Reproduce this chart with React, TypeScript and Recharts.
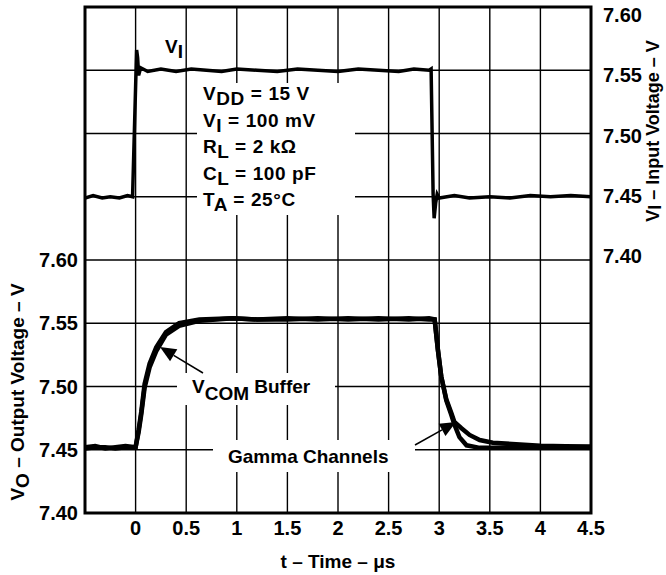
import React from 'react';
import { LineChart, Line, XAxis, YAxis, CartesianGrid, ReferenceArea } from 'recharts';

// ---- tick values ----
const timeTicks = [-0.5, 0, 0.5, 1, 1.5, 2, 2.5, 3, 3.5, 4, 4.5];
const outputTicks = [7.4, 7.45, 7.5, 7.55, 7.6, 7.65, 7.7, 7.75, 7.8];
const inputTicks = [7.4, 7.45, 7.5, 7.55, 7.6];

// ---- V_I input step (right axis) ----
const inputTime = [-0.5, -0.42, -0.33, -0.25, -0.16, -0.08, -0.03, 0.01, 0.02, 0.03, 0.05, 0.12, 0.25, 0.4, 0.55, 0.7, 0.85, 1.0, 1.2, 1.4, 1.6, 1.8, 2.0, 2.2, 2.4, 2.6, 2.75, 2.9, 2.92, 2.94, 2.95, 2.965, 2.98, 3.0, 3.15, 3.3, 3.5, 3.7, 3.9, 4.1, 4.3, 4.5];
const inputVolt = [7.449, 7.451, 7.449, 7.450, 7.449, 7.451, 7.450, 7.566, 7.560, 7.546, 7.552, 7.549, 7.551, 7.549, 7.551, 7.550, 7.549, 7.551, 7.550, 7.549, 7.551, 7.550, 7.549, 7.551, 7.550, 7.549, 7.551, 7.550, 7.551, 7.452, 7.433, 7.445, 7.452, 7.449, 7.451, 7.449, 7.450, 7.449, 7.451, 7.450, 7.451, 7.450];

// ---- V_O output, Gamma channels (faster settling) ----
const gammaTime = [-0.5, -0.4, -0.3, -0.2, -0.1, 0.0, 0.03, 0.056, 0.089, 0.138, 0.204, 0.3, 0.43, 0.63, 0.96, 1.2, 1.5, 1.8, 2.1, 2.4, 2.7, 2.9, 2.955, 2.987, 3.02, 3.07, 3.12, 3.15, 3.2, 3.27, 3.4, 3.6, 3.8, 4.0, 4.2, 4.5];
const gammaVolt = [7.452, 7.453, 7.451, 7.452, 7.453, 7.452, 7.466, 7.480, 7.502, 7.518, 7.531, 7.543, 7.550, 7.553, 7.554, 7.553, 7.554, 7.553, 7.554, 7.553, 7.554, 7.553, 7.553, 7.529, 7.508, 7.489, 7.4775, 7.470, 7.460, 7.4535, 7.4515, 7.4515, 7.452, 7.4515, 7.452, 7.452];

// ---- V_O output, VCOM buffer (slower tail) ----
const vcomTime = [-0.5, -0.4, -0.3, -0.2, -0.1, 0.0, 0.03, 0.056, 0.089, 0.138, 0.204, 0.3, 0.43, 0.63, 0.96, 1.2, 1.5, 1.8, 2.1, 2.4, 2.7, 2.9, 2.955, 2.987, 3.02, 3.07, 3.12, 3.15, 3.22, 3.3, 3.4, 3.53, 3.76, 4.0, 4.25, 4.5];
const vcomVolt = [7.451, 7.452, 7.452, 7.451, 7.452, 7.452, 7.464, 7.478, 7.499, 7.515, 7.528, 7.541, 7.548, 7.552, 7.554, 7.553, 7.553, 7.554, 7.553, 7.554, 7.553, 7.554, 7.553, 7.529, 7.508, 7.490, 7.479, 7.472, 7.467, 7.4617, 7.4577, 7.4556, 7.4543, 7.4532, 7.4528, 7.4525];

const toRows = (ts: number[], vs: number[]) => ts.map((t, i) => ({ t, v: vs[i] }));
const inputData = toRows(inputTime, inputVolt);
const gammaData = toRows(gammaTime, gammaVolt);
const vcomData = toRows(vcomTime, vcomVolt);

const FONT = '"Liberation Sans", Arial, Helvetica, sans-serif';
const textStyle: React.CSSProperties = { fontFamily: FONT, fontWeight: 'bold', fill: '#000' };

const Arrow = ({ x1, y1, x2, y2 }: { x1: number; y1: number; x2: number; y2: number }) => {
  const dx = x2 - x1;
  const dy = y2 - y1;
  const len = Math.sqrt(dx * dx + dy * dy);
  const ux = dx / len;
  const uy = dy / len;
  const hl = 16;
  const hw = 7;
  const bx = x2 - ux * hl;
  const by = y2 - uy * hl;
  const pts = `${x2},${y2} ${bx - uy * hw},${by + ux * hw} ${bx + uy * hw},${by - ux * hw}`;
  return (
    <g>
      <line x1={x1} y1={y1} x2={bx} y2={by} stroke="#000" strokeWidth={1.5} />
      <polygon points={pts} fill="#000" />
    </g>
  );
};

const Annotations = () => (
  <g>
    {/* white boxes behind the texts */}
    <rect x={197} y={83} width={158} height={132} fill="#fff" />
    <rect x={177} y={373} width={158} height={32} fill="#fff" />
    <rect x={213} y={440} width={202} height={32} fill="#fff" />

    <text x={165} y={53} fontSize={19} style={textStyle}>
      V<tspan dy={5}>I</tspan>
    </text>

    <g fontSize={19} style={textStyle}>
      <text x={203} y={100} style={textStyle} letterSpacing={0.6}>
        V<tspan dy={5}>DD</tspan><tspan dy={-5}> = 15 V</tspan>
      </text>
      <text x={203} y={127} style={textStyle} letterSpacing={0.6}>
        V<tspan dy={5}>I</tspan><tspan dy={-5}> = 100 mV</tspan>
      </text>
      <text x={203} y={153} style={textStyle} letterSpacing={0.6}>
        R<tspan dy={5}>L</tspan><tspan dy={-5}> = 2 kΩ</tspan>
      </text>
      <text x={203} y={180} style={textStyle} letterSpacing={0.6}>
        C<tspan dy={5}>L</tspan><tspan dy={-5}> = 100 pF</tspan>
      </text>
      <text x={203} y={206} style={textStyle} letterSpacing={0.6}>
        T<tspan dy={5}>A</tspan><tspan dy={-5}> = 25°C</tspan>
      </text>
    </g>

    <text x={192} y={393} fontSize={19} style={textStyle}>
      V<tspan dy={7}>COM</tspan><tspan dy={-7}> Buffer</tspan>
    </text>
    <text x={228} y={463} fontSize={19} style={textStyle}>
      Gamma Channels
    </text>

    <Arrow x1={203} y1={373} x2={160} y2={347} />
    <Arrow x1={415} y1={445} x2={456} y2={422} />

    {/* axis titles */}
    <text transform="translate(24,392) rotate(-90)" textAnchor="middle" fontSize={19} style={textStyle}>
      V<tspan dy={5}>O</tspan><tspan dy={-5}> – Output Voltage – V</tspan>
    </text>
    <text transform="translate(659,131) rotate(-90)" textAnchor="middle" fontSize={18} style={textStyle}>
      V<tspan dy={2}>I</tspan><tspan dy={-2}> – Input Voltage – V</tspan>
    </text>
    <text x={338} y={568} textAnchor="middle" fontSize={19} style={textStyle}>
      t – Time – μs
    </text>
  </g>
);

const tickStyle = { fill: '#000', fontSize: 20, fontWeight: 'bold', fontFamily: FONT };

// right-axis labels sit slightly lower than their grid lines near the top, as in the reference
const RightTick = (props: any) => {
  const { x, y, payload } = props;
  const shift = 8 - (y - 7) * 0.048;
  return (
    <text x={x} y={y + shift} dy="0.355em" textAnchor="start" fontSize={20} style={textStyle}>
      {Number(payload.value).toFixed(2)}
    </text>
  );
};

export default function App() {
  return (
    <div style={{ position: 'absolute', left: 0, top: 0, background: '#fff' }}>
      <LineChart width={666} height={575} margin={{ top: 7, right: 0, bottom: 0, left: 0 }}>
        <CartesianGrid yAxisId="left" stroke="#000" strokeWidth={1.4} strokeOpacity={1} />
        <XAxis
          dataKey="t"
          type="number"
          domain={[-0.5, 4.5]}
          ticks={timeTicks}
          interval={0}
          allowDataOverflow
          height={62}
          tickSize={0}
          tickMargin={8}
          tickLine={false}
          axisLine={false}
          tick={tickStyle}
          tickFormatter={(v: number) => (v < 0 ? '' : String(v))}
        />
        <YAxis
          yAxisId="left"
          type="number"
          domain={[7.4, 7.8]}
          ticks={outputTicks}
          interval={0}
          allowDataOverflow
          width={85}
          tickSize={0}
          tickMargin={7}
          tickLine={false}
          axisLine={false}
          tick={tickStyle}
          tickFormatter={(v: number) => (v > 7.601 ? '' : v.toFixed(2))}
        />
        <YAxis
          yAxisId="right"
          orientation="right"
          type="number"
          domain={[7.2, 7.6]}
          ticks={inputTicks}
          interval={0}
          allowDataOverflow
          width={75}
          tickSize={0}
          tickMargin={12}
          tickLine={false}
          axisLine={false}
          tick={<RightTick />}
        />
        <Annotations />
        <ReferenceArea
          yAxisId="left"
          x1={-0.5}
          x2={4.5}
          y1={7.4}
          y2={7.8}
          fill="none"
          fillOpacity={0}
          stroke="#000"
          strokeWidth={3}
          ifOverflow="visible"
        />
        <Line yAxisId="right" data={inputData} dataKey="v" type="linear" stroke="#000" strokeWidth={3.5} dot={false} isAnimationActive={false} />
        <Line yAxisId="left" data={vcomData} dataKey="v" type="linear" stroke="#000" strokeWidth={4.5} dot={false} isAnimationActive={false} />
        <Line yAxisId="left" data={gammaData} dataKey="v" type="linear" stroke="#000" strokeWidth={4.5} dot={false} isAnimationActive={false} />
      </LineChart>
    </div>
  );
}
